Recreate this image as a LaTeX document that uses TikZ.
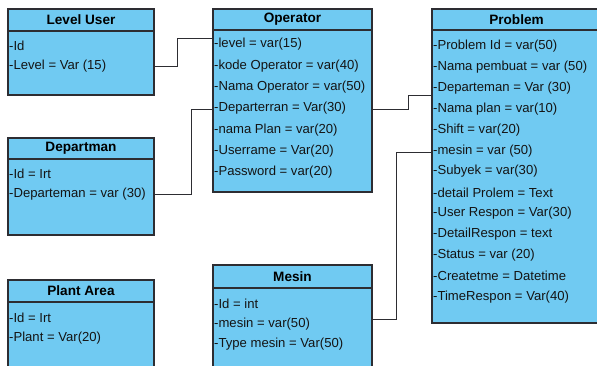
\documentclass[tikz,border=0pt]{standalone}
\usepackage{fontspec}
\setmainfont{Liberation Sans}
\definecolor{boxfill}{RGB}{112,202,242}
\definecolor{boxline}{RGB}{45,45,50}
\begin{document}
\begin{tikzpicture}[x=1pt,y=1pt,
  box/.style={draw=boxline, line width=1.1pt, fill=boxfill, anchor=north west, inner sep=0pt, outer sep=0pt},
  divline/.style={draw=boxline, line width=1.1pt},
  ttl/.style={font=\fontsize{13.6}{15}\selectfont\bfseries, inner sep=0pt, text=black},
  row/.style={font=\fontsize{13.1}{15}\selectfont, anchor=west, inner sep=0pt, text=black!92},
  conn/.style={draw=boxline, line width=1pt}]
\useasboundingbox (0,0) rectangle (597,-365);

% Level User
\node[box, minimum width=146pt, minimum height=86pt] (lu) at (8,-9) {};
\draw[divline] ([yshift=-22pt]lu.north west) -- ([yshift=-22pt]lu.north east);
\node[ttl] (lut) at ([yshift=-11pt]lu.north) {Level User};
\node[row] (lu1) at ([xshift=1pt,yshift=-36.5pt]lu.north west) {-Id};
\node[row] (lu2) at ([xshift=1pt,yshift=-57.5pt]lu.north west) {-Level = Var (15)};

% Departman
\node[box, minimum width=146pt, minimum height=97pt] (dp) at (8,-138) {};
\draw[divline] ([yshift=-21pt]dp.north west) -- ([yshift=-21pt]dp.north east);
\node[ttl] (dpt) at ([yshift=-10.5pt]dp.north) {Departman};
\node[row] (dp1) at ([xshift=1pt,yshift=-35.5pt]dp.north west) {-Id = Irt};
\node[row] (dp2) at ([xshift=1pt,yshift=-56.5pt]dp.north west) {-Departeman = var (30)};

% Plant Area
\node[box, minimum width=146pt, minimum height=95pt] (pa) at (8,-280) {};
\draw[divline] ([yshift=-22pt]pa.north west) -- ([yshift=-22pt]pa.north east);
\node[ttl] (pat) at ([yshift=-11pt]pa.north) {Plant Area};
\node[row] (pa1) at ([xshift=1pt,yshift=-37.5pt]pa.north west) {-Id = Irt};
\node[row] (pa2) at ([xshift=1pt,yshift=-58.5pt]pa.north west) {-Plant = Var(20)};

% Operator
\node[box, minimum width=159pt, minimum height=183pt] (op) at (213,-9) {};
\draw[divline] ([yshift=-21pt]op.north west) -- ([yshift=-21pt]op.north east);
\node[ttl] (opt) at ([yshift=-10.5pt]op.north) {Operator};
\node[row] (op1) at ([xshift=1pt,yshift=-35.5pt]op.north west) {-level = var(15)};
\node[row] (op2) at ([xshift=1pt,yshift=-56.8pt]op.north west) {-kode Operator = var(40)};
\node[row] (op3) at ([xshift=1pt,yshift=-78.2pt]op.north west) {-Nama Operator = var(50)};
\node[row] (op4) at ([xshift=1pt,yshift=-99.5pt]op.north west) {-Departerran = Var(30)};
\node[row] (op5) at ([xshift=1pt,yshift=-120.8pt]op.north west) {-nama Plan = var(20)};
\node[row] (op6) at ([xshift=1pt,yshift=-142.2pt]op.north west) {-Userrame = Var(20)};
\node[row] (op7) at ([xshift=1pt,yshift=-163.5pt]op.north west) {-Password = var(20)};

% Mesin
\node[box, minimum width=159pt, minimum height=110pt] (ms) at (213,-265) {};
\draw[divline] ([yshift=-23pt]ms.north west) -- ([yshift=-23pt]ms.north east);
\node[ttl] (mst) at ([yshift=-11.5pt]ms.north) {Mesin};
\node[row] (ms1) at ([xshift=1pt,yshift=-38.5pt]ms.north west) {-Id = int};
\node[row] (ms2) at ([xshift=1pt,yshift=-59pt]ms.north west) {-mesin = var(50)};
\node[row] (ms3) at ([xshift=1pt,yshift=-79.5pt]ms.north west) {-Type mesin = Var(50)};

% Problem
\node[box, minimum width=169pt, minimum height=314pt] (pr) at (432,-9) {};
\draw[divline] ([yshift=-21pt]pr.north west) -- ([yshift=-21pt]pr.north east);
\node[ttl] (prt) at ([yshift=-10.5pt]pr.north) {Problem};
\node[row] (pr1) at ([xshift=1pt,yshift=-37.5pt]pr.north west) {-Problem Id = var(50)};
\node[row] (pr2) at ([xshift=1pt,yshift=-58.35pt]pr.north west) {-Nama pembuat = var (50)};
\node[row] (pr3) at ([xshift=1pt,yshift=-79.2pt]pr.north west) {-Departeman = Var (30)};
\node[row] (pr4) at ([xshift=1pt,yshift=-100.05pt]pr.north west) {-Nama plan = var(10)};
\node[row] (pr5) at ([xshift=1pt,yshift=-120.9pt]pr.north west) {-Shift = var(20)};
\node[row] (pr6) at ([xshift=1pt,yshift=-141.75pt]pr.north west) {-mesin = var (50)};
\node[row] (pr7) at ([xshift=1pt,yshift=-162.6pt]pr.north west) {-Subyek = var(30)};
\node[row] (pr8) at ([xshift=1pt,yshift=-183.45pt]pr.north west) {-detail Prolem = Text};
\node[row] (pr9) at ([xshift=1pt,yshift=-204.3pt]pr.north west) {-User Respon = Var(30)};
\node[row] (pr10) at ([xshift=1pt,yshift=-225.15pt]pr.north west) {-DetailRespon = text};
\node[row] (pr11) at ([xshift=1pt,yshift=-246pt]pr.north west) {-Status = var (20)};
\node[row] (pr12) at ([xshift=1pt,yshift=-266.85pt]pr.north west) {-Createtme = Datetime};
\node[row] (pr13) at ([xshift=1pt,yshift=-287.7pt]pr.north west) {-TimeRespon = Var(40)};

% connectors
\draw[conn] (lu.east |- 0,-66) -- ++(23,0) |- (op.west |- 0,-38);
\draw[conn] (dp.east |- 0,-194) -- ++(37,0) |- (op.west |- 0,-109);
\draw[conn] (op.east |- 0,-109) -- ++(36,0) |- (pr.west |- 0,-95);
\draw[conn] (ms.east |- 0,-319) -- ++(24,0) |- (pr.west |- 0,-152);
\end{tikzpicture}
\end{document}
